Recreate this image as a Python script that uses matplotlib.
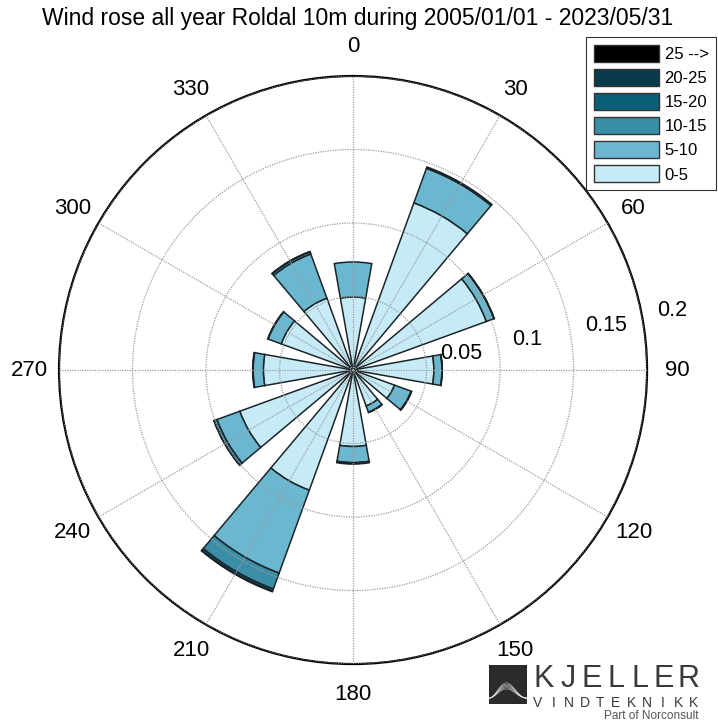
import numpy as np
import matplotlib
matplotlib.use("Agg")
from matplotlib import pyplot as plt
from matplotlib.patches import Patch, Rectangle

plt.rcParams['font.family'] = ['Liberation Sans', 'DejaVu Sans']

# wind direction sectors (deg) and speed classes (m/s)
directions = [0, 30, 60, 90, 120, 150, 180, 210, 240, 270, 300, 330]
speed_bins = ['0-5', '5-10', '10-15', '15-20', '20-25', '25 -->']
bin_colors = ['#c6ebf7', '#6bb7cf', '#3a8ea7', '#0b5e77', '#083a4a', '#000000']

# relative frequency per speed class, one list per direction sector
freq_0_5 = [0.0497, 0.121, 0.0965, 0.055, 0.030, 0.026, 0.052, 0.087, 0.082, 0.061, 0.052, 0.052]
freq_5_10 = [0.0238, 0.025, 0.0055, 0.0055, 0.012, 0.0045, 0.011, 0.060, 0.0165, 0.007, 0.0095, 0.032]
freq_10_15 = [0.0, 0.001, 0.0003, 0.0002, 0.0005, 0.0003, 0.001, 0.0115, 0.002, 0.0003, 0.0003, 0.0015]
freq_15_20 = [0.0, 0.0, 0.0, 0.0, 0.0, 0.0, 0.0, 0.0015, 0.0003, 0.0, 0.0, 0.0003]
freq_20_25 = [0.0, 0.0, 0.0, 0.0, 0.0, 0.0, 0.0, 0.0005, 0.0, 0.0, 0.0, 0.0]
freq_25_up = [0.0, 0.0, 0.0, 0.0, 0.0, 0.0, 0.0, 0.0, 0.0, 0.0, 0.0, 0.0]

radial_ticks = [0.05, 0.1, 0.15, 0.2]
title = 'Wind rose all year Roldal 10m during 2005/01/01 - 2023/05/31'

freqs = np.array([freq_0_5, freq_5_10, freq_10_15, freq_15_20, freq_20_25, freq_25_up])
theta = np.deg2rad(directions)
width = np.deg2rad(20)

fig = plt.figure(figsize=(7.18, 7.22), dpi=100)
ax = fig.add_axes([0.0822, 0.0803, 0.819, 0.8144], projection='polar')
ax.set_theta_zero_location('N')
ax.set_theta_direction(-1)

# stacked sector bars
bottom = np.zeros(len(directions))
for i in range(len(speed_bins)):
    h = freqs[i]
    mask = h > 0
    if mask.any():
        ax.bar(theta[mask], h[mask], width=width, bottom=bottom[mask],
               color=bin_colors[i], edgecolor='#1b2529', linewidth=1.1, zorder=1)
    bottom = bottom + h

ax.set_ylim(0, 0.2)
ax.set_xticks(theta)
ax.set_xticklabels([])
ax.set_yticks(radial_ticks)
ax.set_yticklabels([])
ax.set_axisbelow(False)
ax.grid(True, color='#9c9c9c', linestyle=(0, (1, 1)), linewidth=0.9)
ax.spines['polar'].set_color('black')
ax.spines['polar'].set_linewidth(1.6)
ax.tick_params(length=0)

# direction labels around the rim
for d in directions:
    ax.text(np.deg2rad(d), 0.2204, str(d), ha='center', va='center', fontsize=16)

# radial labels
for r in radial_ticks:
    ax.text(np.deg2rad(79), r + 0.0105, f'{r:g}', ha='left', va='center', fontsize=15.5)

fig.text(358 / 718, 1 - 18 / 722, title, ha='center', va='center', fontsize=16.5)

# legend, highest speed class on top
handles = [Patch(facecolor=c, edgecolor='#333333', linewidth=1.0) for c in bin_colors][::-1]
leg = fig.legend(handles, speed_bins[::-1], loc='upper right',
                 bbox_to_anchor=(716 / 718, 1 - 37 / 722), bbox_transform=fig.transFigure,
                 frameon=True, fancybox=False, edgecolor='black', fontsize=12,
                 handlelength=3.9, handleheight=1.2, labelspacing=0.42,
                 borderpad=0.45, handletextpad=0.35, borderaxespad=0)
leg.get_frame().set_linewidth(0.8)

# company logo in the lower right corner
lax = fig.add_axes([489 / 718, 18 / 722, 38 / 718, 39 / 722])
lax.add_patch(Rectangle((0, 0), 1, 1, color='#2b2b2b'))
t = np.linspace(0, 1, 60)
for k in range(6):
    lax.plot(t, 0.15 + 0.55 * np.sin(np.pi * t) ** 2 * (0.6 + 0.08 * k) * (1 - 0.6 * t),
             color='white', linewidth=0.4, alpha=0.7)
lax.set_xlim(0, 1)
lax.set_ylim(0, 1)
lax.axis('off')

for i, ch in enumerate('KJELLER'):
    fig.text((544 + i * 24.0) / 718, 1 - 679 / 722, ch, ha='center', va='center',
             fontsize=22, color='#3a3a3a')
for i, ch in enumerate('VINDTEKNIKK'):
    fig.text((538 + i * 15.6) / 718, 1 - 703 / 722, ch, ha='center', va='center',
             fontsize=10, color='#3a3a3a')
fig.text(698 / 718, 1 - 716 / 722, 'Part of Norconsult', ha='right', va='center',
         fontsize=8.5, color='#555555')

fig.savefig('out.png', dpi=100)
